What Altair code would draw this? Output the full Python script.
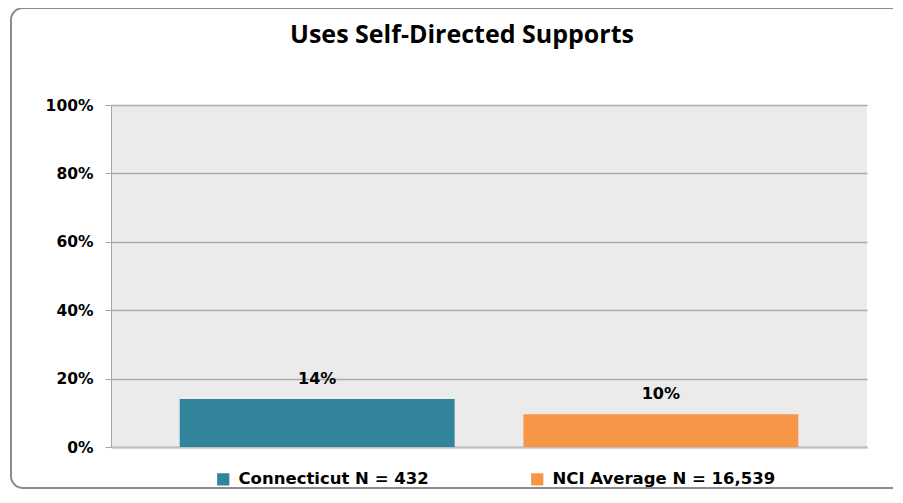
import altair as alt
import pandas as pd

series = ["Connecticut N = 432", "NCI Average N = 16,539"]
values = [0.14, 0.096]
colors = ["#31849B", "#F79646"]
y_ticks = [0, 0.2, 0.4, 0.6, 0.8, 1.0]
title_text = "Uses Self-Directed Supports"

df = pd.DataFrame({"series": series, "value": values})

LBL_FONT = "DejaVu Sans"

x_enc = alt.X(
    "series:N",
    sort=series,
    scale=alt.Scale(paddingInner=0.2, paddingOuter=0.2),
    axis=alt.Axis(labels=False, ticks=False, title=None, grid=False,
                  domainColor="#bfbfbf", domainWidth=2),
)
y_enc = alt.Y(
    "value:Q",
    scale=alt.Scale(domain=[0, 1]),
    axis=alt.Axis(values=y_ticks, format=".0%", title=None,
                  labelFont=LBL_FONT, labelFontWeight="bold", labelFontSize=15.5,
                  labelColor="#000000", labelPadding=12, tickSize=6,
                  tickColor="#a6a6a6", domainColor="#a6a6a6",
                  gridColor="#ababab", gridWidth=1.3),
)

bd = pd.DataFrame({"b": [0]})
rule_style = dict(stroke="#8c8c8c", strokeWidth=2)
border_top = alt.Chart(bd).mark_rule(**rule_style).encode(
    x=alt.value(-88), x2=alt.value(900), y=alt.value(-97))
border_left = alt.Chart(bd).mark_rule(**rule_style).encode(
    x=alt.value(-100), y=alt.value(-85), y2=alt.value(371))
border_bot = alt.Chart(bd).mark_rule(**rule_style).encode(
    x=alt.value(-88), x2=alt.value(900), y=alt.value(383))
corner_tl = alt.Chart(bd).mark_arc(
    radius=12, radius2=12, theta=4.712, theta2=6.283, stroke="#8c8c8c",
    strokeWidth=2, filled=False
).encode(x=alt.value(-88), y=alt.value(-85))
corner_bl = alt.Chart(bd).mark_arc(
    radius=12, radius2=12, theta=3.1416, theta2=4.712, stroke="#8c8c8c",
    strokeWidth=2, filled=False
).encode(x=alt.value(-88), y=alt.value(371))

title = alt.Chart(pd.DataFrame({"t": [title_text]})).mark_text(
    font="Open Sans", fontWeight="bold", fontSize=25, color="#000000",
    align="center", baseline="alphabetic"
).encode(
    x=alt.value(351), y=alt.value(-62), text="t:N"
)

bars = alt.Chart(df).mark_bar().encode(
    x=x_enc,
    y=y_enc,
    color=alt.Color(
        "series:N",
        sort=series,
        scale=alt.Scale(domain=series, range=colors),
        legend=alt.Legend(
            orient="none", legendX=104, legendY=366, direction="horizontal",
            title=None, symbolType="square", symbolSize=150,
            symbolStrokeWidth=0, symbolOpacity=1,
            labelFont=LBL_FONT, labelFontWeight="bold", labelFontSize=16.5,
            labelColor="#000000", labelLimit=400, columnPadding=100,
            labelOffset=7,
        ),
    ),
)

labels = alt.Chart(df).mark_text(
    dy=-12, baseline="bottom", font=LBL_FONT, fontWeight="bold", fontSize=16,
    color="#000000"
).encode(
    x=alt.X("series:N", sort=series),
    y="value:Q",
    text=alt.Text("value:Q", format=".0%"),
)

chart = alt.layer(
    border_top, border_left, border_bot, corner_tl, corner_bl, title, bars, labels
).properties(
    width=756,
    height=342,
    padding={"left": 103, "top": 97, "right": 26, "bottom": 42},
    autosize=alt.AutoSizeParams(type="none"),
    background="#ffffff",
).configure_view(
    fill="#ebebeb", stroke=None
)

chart.save("out.html", embed_options={"renderer": "svg", "actions": False})
